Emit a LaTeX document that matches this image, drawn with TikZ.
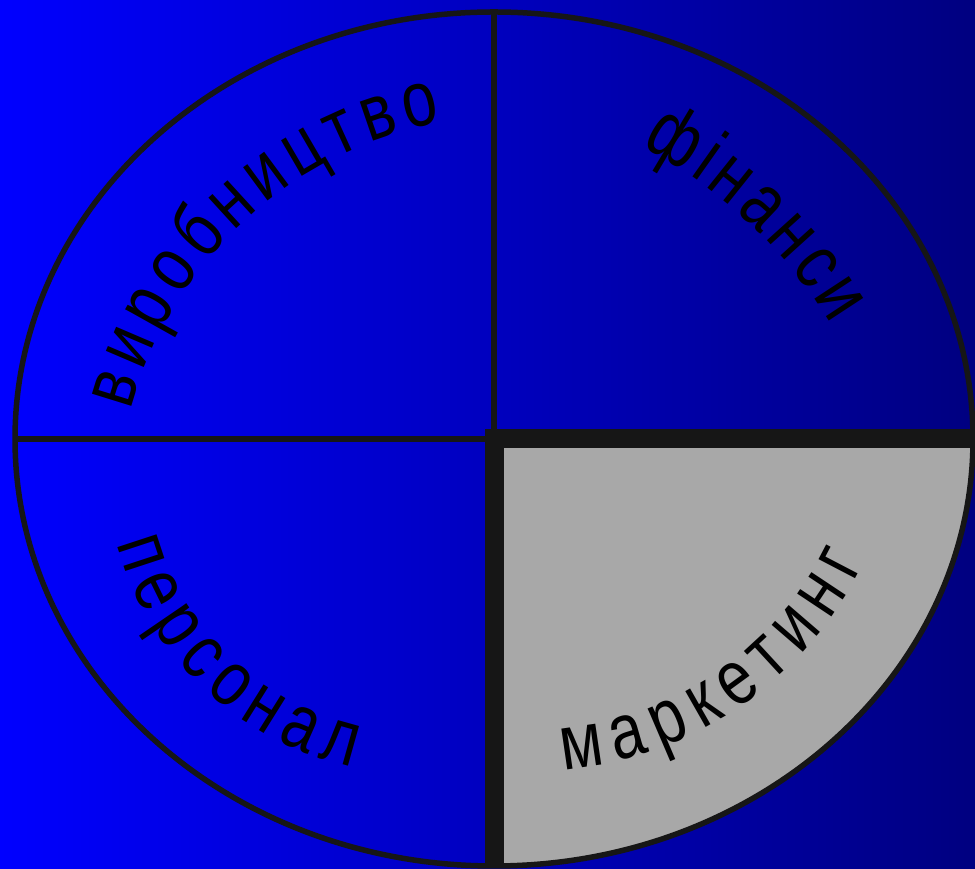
\documentclass[tikz,border=0pt]{standalone}
\usepackage{fontspec}
\newfontfamily\piefont[FakeStretch=0.8]{Liberation Sans}
\usetikzlibrary{decorations.text,calc}

\definecolor{bgleft}{RGB}{0,0,255}
\definecolor{bgright}{RGB}{0,0,128}
\definecolor{rimcol}{RGB}{22,22,22}
\definecolor{slicegray}{RGB}{168,168,168}

\begin{document}
\begin{tikzpicture}[
  x=1pt, y=1pt,
  rim/.style={draw=rimcol, line width=5.5pt},
  arctext/.style={decorate, decoration={text along path,
      text={|\piefont\fontsize{78}{80}\selectfont|#1},
      text align={fit to path}, raise=-20pt}}
]
\shade[left color=bgleft, right color=bgright] (0,0) rectangle (975,869);
\useasboundingbox (0,0) rectangle (975,869);

\coordinate (ctr) at (494,430);
\coordinate (north) at (494,857);
\coordinate (south) at (494,3);
\coordinate (east) at (973,430);
\coordinate (west) at (15,430);

% marketing slice
\fill[slicegray] (ctr) -- (east) arc[start angle=0, end angle=-90, x radius=479, y radius=427] -- cycle;

\draw[rim] (ctr) ellipse[x radius=479, y radius=427];
\draw[rim] (ctr) -- (north);
\draw[rim] (ctr) -- (west);
\begin{scope}
  \clip (ctr) ellipse[x radius=479, y radius=427];
  \draw[rimcol, line width=19pt] (east) -- (ctr) -- (south);
\end{scope}

% labels along the rim
\coordinate (cV) at (513,358);
\coordinate (cF) at (412,290);
\coordinate (cP) at (419,407.5);
\coordinate (cM) at (531,468);
\path[arctext=виробництво] ($(cV)+(165.1:415)$) arc[start angle=165.1, end angle=100.6, radius=415];
\path[arctext=фінанси] ($(cF)+(62:510)$) arc[start angle=62, end angle=31.3, radius=510];
\path[arctext=персонал] ($(cP)+(194.9:293)$) arc[start angle=194.9, end angle=257.9, radius=293];
\path[arctext=маркетинг] ($(cM)+(274.8:350)$) arc[start angle=274.8, end angle=334.3, radius=350];
\end{tikzpicture}
\end{document}
